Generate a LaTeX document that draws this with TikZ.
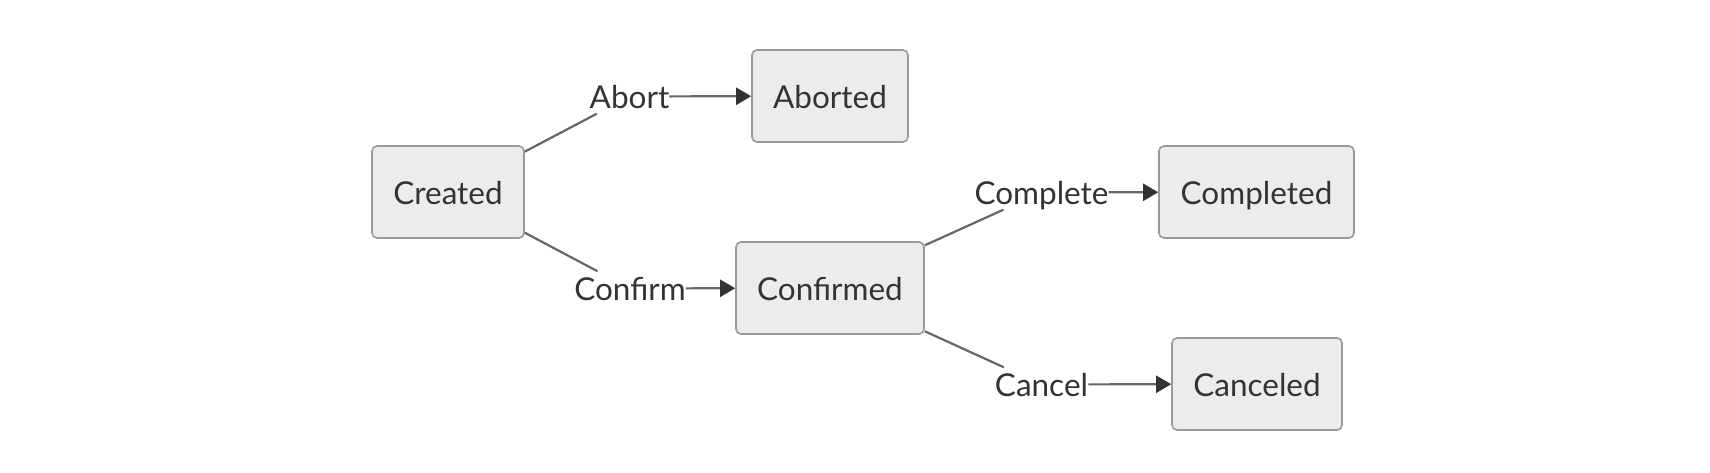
\documentclass[tikz,border=0pt]{standalone}
\usepackage{fontspec}
\setmainfont{Lato}
\usetikzlibrary{arrows.meta}
\definecolor{boxfill}{HTML}{ECECEC}
\definecolor{boxdraw}{HTML}{999999}
\definecolor{txt}{HTML}{333333}
\definecolor{edge}{HTML}{666666}
\begin{document}
\begin{tikzpicture}[x=1pt,y=-1pt,
  statebox/.style={draw=boxdraw,fill=boxfill,line width=1.6pt,rounded corners=5pt,
    minimum height=92pt,inner sep=0pt,text height=24pt,text depth=0pt,text=txt,
    font=\fontsize{31.5}{38}\selectfont},
  lbl/.style={fill=white,inner sep=0pt,minimum height=34pt,text height=24pt,text depth=0pt,
    text=txt,font=\fontsize{31.5}{38}\selectfont},
  edgeline/.style={draw=edge,line width=2.2pt},
  arr/.style={edgeline,-{Triangle[length=15pt,width=17pt,color=txt]}}]
\useasboundingbox (0,0) rectangle (1710,472);
\node[statebox,minimum width=152pt] (created) at (448,192) {Created};
\node[statebox,minimum width=156pt] (aborted) at (830,96) {Aborted};
\node[statebox,minimum width=188pt] (confirmed) at (830,288) {Confirmed};
\node[statebox,minimum width=195pt] (completed) at (1256.5,192) {Completed};
\node[statebox,minimum width=170pt] (canceled) at (1257,384) {Canceled};
\node[lbl] (labort) at (629.5,96.5) {Abort};
\node[lbl] (lconfirm) at (630,288.5) {Confirm};
\node[lbl] (lcomplete) at (1041.5,192.5) {Complete};
\node[lbl] (lcancel) at (1041.5,384.5) {Cancel};
\draw[edgeline] (created) -- (labort);
\draw[edgeline] (created) -- (lconfirm);
\draw[edgeline] (confirmed) -- (lcomplete);
\draw[edgeline] (confirmed) -- (lcancel);
\draw[arr] (labort) -- (aborted);
\draw[arr] (lconfirm) -- (confirmed);
\draw[arr] (lcomplete) -- (completed);
\draw[arr] (lcancel) -- (canceled);
\end{tikzpicture}
\end{document}
